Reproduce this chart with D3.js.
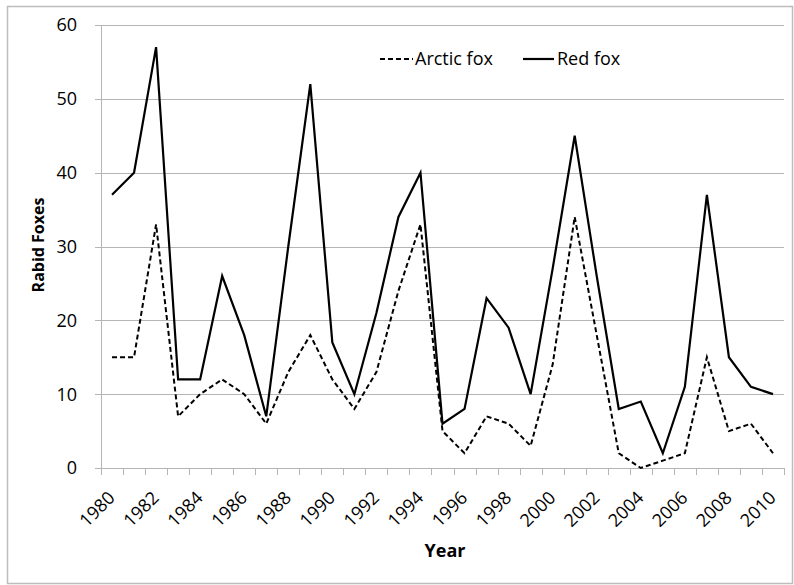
<!DOCTYPE html>
<html>
<head>
<meta charset="utf-8">
<script src="https://cdn.jsdelivr.net/npm/d3@7"></script>
<style>
  body { margin: 0; background: #fff; }
  text { font-family: "Open Sans", Lato, sans-serif; fill: #000; }
</style>
</head>
<body>
<div id="chart"></div>
<script>
// data
var years = [1980, 1981, 1982, 1983, 1984, 1985, 1986, 1987, 1988, 1989,
  1990, 1991, 1992, 1993, 1994, 1995, 1996, 1997, 1998, 1999,
  2000, 2001, 2002, 2003, 2004, 2005, 2006, 2007, 2008, 2009, 2010];
var redFox = [37, 40, 57, 12, 12, 26, 18, 7, 30, 52,
  17, 10, 21, 34, 40, 6, 8, 23, 19, 10,
  27, 45, 26, 8, 9, 2, 11, 37, 15, 11, 10];
var arcticFox = [15, 15, 33, 7, 10, 12, 10, 6, 13, 18,
  12, 8, 13, 24, 33, 5, 2, 7, 6, 3,
  14, 34, 18, 2, 0, 1, 2, 15, 5, 6, 2];
var yTicks = [0, 10, 20, 30, 40, 50, 60];
var xTickLabels = years.filter(d => d % 2 === 0);

var svgWidth = 794;
var svgHeight = 585;

// plot area
var plotLeft = 101, plotRight = 784, plotTop = 25, plotBottom = 468;
var gridColor = "#b5b5b5";

var svg = d3.select("#chart")
  .append("svg")
  .attr("width", svgWidth)
  .attr("height", svgHeight);

// outer frame
svg.append("rect")
  .attr("x", 7.5)
  .attr("y", 6.5)
  .attr("width", 785)
  .attr("height", 577)
  .attr("fill", "none")
  .attr("stroke", "#bdbdbd")
  .attr("stroke-width", 1.5);

var x = d3.scaleBand()
  .domain(years)
  .range([plotLeft, plotRight]);

var y = d3.scaleLinear()
  .domain([0, 60])
  .range([plotBottom, plotTop]);

// gridlines + y ticks
svg.append("g")
  .selectAll("line")
  .data(yTicks)
  .enter()
  .append("line")
  .attr("x1", plotLeft - 6)
  .attr("x2", plotRight)
  .attr("y1", d => Math.round(y(d)) + 0.5)
  .attr("y2", d => Math.round(y(d)) + 0.5)
  .attr("stroke", gridColor)
  .attr("stroke-width", 1);

svg.append("g")
  .selectAll("text")
  .data(yTicks)
  .enter()
  .append("text")
  .attr("x", 77)
  .attr("y", d => y(d))
  .attr("dy", "0.36em")
  .attr("text-anchor", "end")
  .attr("font-size", 18)
  .text(d => d);

// y axis line
svg.append("line")
  .attr("x1", plotLeft + 0.5)
  .attr("x2", plotLeft + 0.5)
  .attr("y1", plotTop)
  .attr("y2", plotBottom)
  .attr("stroke", gridColor);

// x ticks sit between categories
var boundaries = years.map(d => x(d)).concat([plotRight]);
svg.append("g")
  .selectAll("line")
  .data(boundaries)
  .enter()
  .append("line")
  .attr("x1", d => Math.round(d) + 0.5)
  .attr("x2", d => Math.round(d) + 0.5)
  .attr("y1", plotBottom)
  .attr("y2", plotBottom + 7)
  .attr("stroke", gridColor);

svg.append("g")
  .selectAll("text")
  .data(xTickLabels)
  .enter()
  .append("text")
  .attr("transform", d => `translate(${x(d) + x.bandwidth() / 2 + 4}, 499) rotate(-45)`)
  .attr("text-anchor", "end")
  .attr("font-size", 18)
  .text(d => d);

// lines
var line = d3.line()
  .x((d, i) => x(years[i]) + x.bandwidth() / 2)
  .y(d => y(d));

svg.append("path")
  .datum(arcticFox)
  .attr("d", line)
  .attr("fill", "none")
  .attr("stroke", "#000")
  .attr("stroke-width", 2)
  .attr("stroke-dasharray", "5,3");

svg.append("path")
  .datum(redFox)
  .attr("d", line)
  .attr("fill", "none")
  .attr("stroke", "#000")
  .attr("stroke-width", 2.2);

// axis titles
svg.append("text")
  .attr("transform", "translate(44, 245) rotate(-90)")
  .attr("text-anchor", "middle")
  .attr("font-size", 16)
  .attr("font-weight", "bold")
  .text("Rabid Foxes");

svg.append("text")
  .attr("x", 445)
  .attr("y", 557)
  .attr("text-anchor", "middle")
  .attr("font-size", 18)
  .attr("font-weight", "bold")
  .text("Year");

// legend
var legend = svg.append("g");
legend.append("line")
  .attr("x1", 380).attr("x2", 413)
  .attr("y1", 59).attr("y2", 59)
  .attr("stroke", "#000")
  .attr("stroke-width", 2)
  .attr("stroke-dasharray", "5,3");
legend.append("text")
  .attr("x", 415)
  .attr("y", 65)
  .attr("font-size", 18)
  .text("Arctic fox");
legend.append("line")
  .attr("x1", 523).attr("x2", 554)
  .attr("y1", 59).attr("y2", 59)
  .attr("stroke", "#000")
  .attr("stroke-width", 2.2);
legend.append("text")
  .attr("x", 557)
  .attr("y", 65)
  .attr("font-size", 18)
  .text("Red fox");
</script>
</body>
</html>
